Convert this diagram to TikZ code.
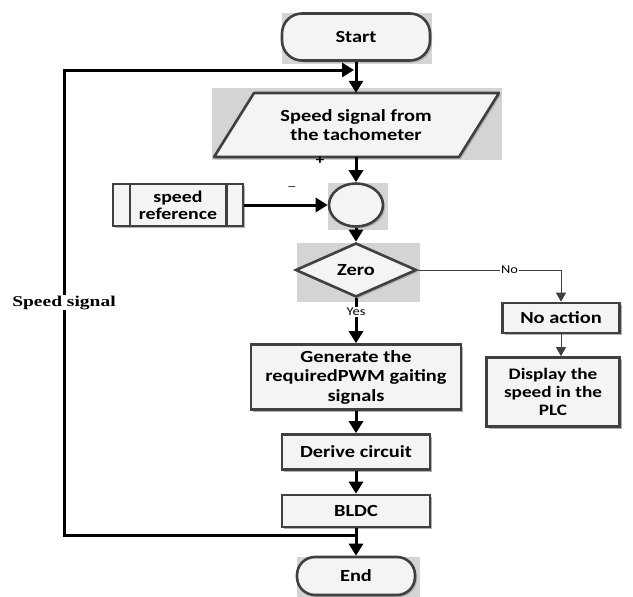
\documentclass[tikz,border=0pt]{standalone}
\usepackage{fontspec}
\setmainfont{Carlito}[FakeStretch=1.2]
\newfontfamily\sigfont{Liberation Serif}[FakeStretch=1.3]
\usetikzlibrary{shapes.geometric,arrows.meta,shadows}
\definecolor{boxline}{HTML}{404040}
\definecolor{boxfill}{HTML}{F4F4F4}
\definecolor{selgrey}{HTML}{D4D4D4}

\begin{document}
\begin{tikzpicture}[x=1pt,y=-1pt,>={Triangle[length=12pt,width=14pt]},
       box shadow/.style={drop shadow={shadow xshift=2pt,shadow yshift=-2pt,fill=black!30,opacity=1}},
       main node/.style={draw=boxline,fill=boxfill,line width=2.6pt,align=center,
         font=\fontsize{17}{19.5}\selectfont\bfseries,inner sep=2pt,box shadow},
       term node/.style={main node,rectangle,rounded corners=20pt},
       flow/.style={->,line width=3pt},
       thin flow/.style={-{Triangle[length=9pt,width=10pt]},line width=1pt,draw=boxline},
       small label/.style={font=\fontsize{12}{14}\selectfont,inner sep=1pt},
       sig label/.style={font=\sigfont\fontsize{15}{17}\selectfont\bfseries,fill=white,inner sep=1pt}]

      \useasboundingbox (0,0) rectangle (633,597);

      % grey frames behind some shapes
      \fill[selgrey] (282,13) rectangle (432,64);
      \fill[selgrey] (212,88) rectangle (502,160);
      \fill[selgrey] (328,183) rectangle (388,230);
      \fill[selgrey] (297,243) rectangle (420,302);
      \fill[selgrey] (297,557) rectangle (420,597);

      % parallelogram for the input
      \draw[draw=boxline,fill=boxfill,line width=2.6pt,line join=round,box shadow]
        (254,93) -- (499,93) -- (459,157) -- (214,157) -- cycle;

      \node[term node,minimum width=148pt,minimum height=47pt] at (356,37) (1) {Start};
      \node[align=center,font=\fontsize{17}{19.5}\selectfont\bfseries,
            minimum width=205pt,minimum height=64pt,inner sep=0pt]
            at (356,125) (2) {Speed signal from\\the tachometer};
      \node[main node,ellipse,minimum width=54pt,minimum height=43pt] at (356,205) (3) {};
      \node[main node,rectangle,minimum width=130pt,minimum height=42pt,
            font=\fontsize{16.5}{17}\selectfont\bfseries] at (178,205) (4) {speed\\reference};
      \node[main node,diamond,minimum width=121pt,minimum height=54pt,inner sep=0pt] at (356,270) (5) {Zero};
      \node[main node,rectangle,minimum width=210pt,minimum height=65pt] at (356,377) (6) {Generate the\\requiredPWM gaiting\\signals};
      \node[main node,rectangle,minimum width=148pt,minimum height=35pt] at (356,452) (7) {Derive circuit};
      \node[main node,rectangle,minimum width=148pt,minimum height=32pt] at (356,511) (8) {BLDC};
      \node[term node,minimum width=118pt,minimum height=38pt,rounded corners=18pt] at (356,576) (9) {End};
      \node[main node,rectangle,minimum width=117pt,minimum height=30pt] at (561,318) (10) {No action};
      \node[main node,rectangle,minimum width=133pt,minimum height=69pt,
            font=\fontsize{16}{18.3}\selectfont\bfseries] at (553,392) (11) {Display the\\speed in the\\PLC};

      % side bars of the predefined process
      \draw[boxline,line width=2.4pt] ([xshift=18pt]4.north west) -- ([xshift=18pt]4.south west);
      \draw[boxline,line width=2.4pt] ([xshift=-18pt]4.north east) -- ([xshift=-18pt]4.south east);

      \node[small label,font=\fontsize{14}{16}\selectfont\bfseries] at (320,161) (plus) {+};
      \node[small label,font=\fontsize{16}{16}\selectfont,text=boxline] at (292,189) (minus) {--};

      \path[flow]
      (1) edge (2)
      (2) edge (3)
      (4) edge (3)
      (3) edge (5)
      (5) edge node[small label,fill=white,pos=0.3] {Yes} (6)
      (6) edge (7)
      (7) edge (8)
      (8) edge (9)
      ;

      \draw[thin flow] (5.east) -| node[small label,fill=white,pos=0.32] {No} (10.north);
      \draw[thin flow] (10.south) -- (10.south |- 11.north);

      % feedback loop
      \coordinate (12) at (356,535);
      \coordinate (13) at (64,535);
      \coordinate (14) at (64,70);
      \coordinate (15) at (354,70);
      \draw[flow] (12) -- (13) -- node[sig label] {Speed signal} (14) -- (15);

    \end{tikzpicture}
\end{document}
